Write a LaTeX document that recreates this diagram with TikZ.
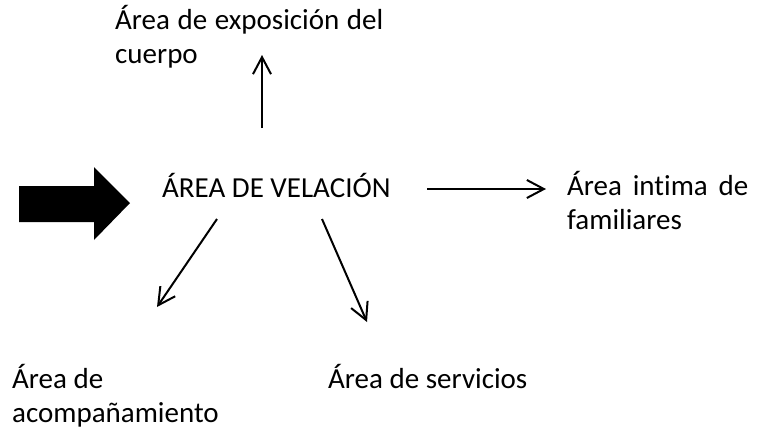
\documentclass[tikz,border=0pt]{standalone}
\usepackage{fontspec}
\setmainfont[Ligatures=NoCommon]{Carlito}
\usetikzlibrary{arrows.meta}
\tikzset{
  lbl/.style={inner sep=0pt, anchor=base west, font=\fontsize{29}{34.5}\selectfont},
  conn/.style={line width=2pt, -{Straight Barb[length=17pt, width=18pt, line width=2pt]}},
  bigarrow/.style={fill=black, draw=none}
}
\begin{document}
\begin{tikzpicture}[x=1pt, y=-1pt]
\useasboundingbox (0,0) rectangle (761,434);
% nodes
\node[lbl] (vel) at (162,197) {ÁREA DE VELACIÓN};
\node[lbl, text width=268pt, align=justify] (expo) at (115,29) {Área de exposición del cuerpo};
\node[lbl, text width=181pt, align=justify] (inti) at (567,195) {Área intima de familiares};
\node[lbl, text width=240pt, align=flush left] (acom) at (12,388) {Área de\\acompañamiento};
\node[lbl] (serv) at (328,388) {Área de servicios};
% arrow end points
\coordinate (upS) at (262,128);
\coordinate (upE) at (262,55);
\coordinate (rtS) at (427,189);
\coordinate (rtE) at (546,189);
\coordinate (dlS) at (217,219);
\coordinate (dlE) at (157,307);
\coordinate (drS) at (322,219);
\coordinate (drE) at (367,322);
% connectors
\draw[conn] (upS) -- (upE);
\draw[conn] (rtS) -- (rtE);
\draw[conn] (dlS) -- (dlE);
\draw[conn] (drS) -- (drE);
% block arrow
\fill[bigarrow] (19,186) -- (94,186) -- (94,167) -- (130,203) -- (94,240) -- (94,222) -- (19,222) -- cycle;
\end{tikzpicture}
\end{document}
